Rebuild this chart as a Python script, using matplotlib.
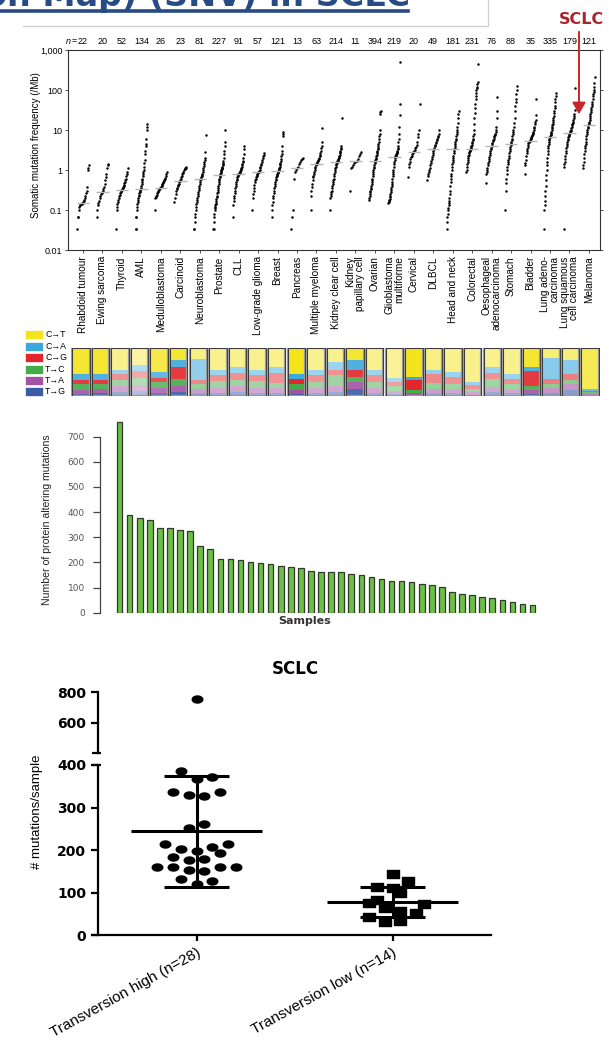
import numpy as np
import matplotlib
matplotlib.use("Agg")
import matplotlib.pyplot as plt
from matplotlib import font_manager
from matplotlib.path import Path
from matplotlib.transforms import Affine2D, blended_transform_factory
from matplotlib.patches import Rectangle, FancyArrowPatch
from matplotlib.lines import Line2D
from matplotlib.ticker import NullLocator

# ---------------------------------------------------------------- data
cancer_types = ["Rhabdoid tumour", "Ewing sarcoma", "Thyroid", "AML", "Medulloblastoma",
                "Carcinoid", "Neuroblastoma", "Prostate", "CLL", "Low-grade glioma",
                "Breast", "Pancreas", "Multiple myeloma", "Kidney clear cell",
                "Kidney\npapillary cell", "Ovarian", "Glioblastoma\nmultiforme", "Cervical",
                "DLBCL", "Head and neck", "Colorectal", "Oesophageal\nadenocarcinoma",
                "Stomach", "Bladder", "Lung adeno-\ncarcinoma", "Lung squamous\ncell carcinoma",
                "Melanoma"]
sample_counts = [22, 20, 52, 134, 26, 23, 81, 227, 91, 57, 121, 13, 63, 214, 11, 394, 219,
                 20, 49, 181, 231, 76, 88, 35, 335, 179, 121]
median_freq = [0.15, 0.29, 0.32, 0.34, 0.36, 0.54, 0.58, 0.75, 0.78, 0.87, 0.94, 1.1, 1.4,
               1.6, 1.65, 1.7, 2.1, 2.9, 3.3, 3.3, 3.3, 4.0, 4.4, 5.3, 6.7, 8.4, 13.6]

# somatic mutation frequency (/Mb) per sample
freq_rhabdoid = [0.033, 0.065, 0.065, 0.1, 0.12, 0.13, 0.13, 0.14, 0.14, 0.15, 0.15, 0.16,
                 0.17, 0.18, 0.2, 0.22, 0.26, 0.3, 0.38, 1.0, 1.15, 1.3]
freq_ewing = [0.065, 0.1, 0.13, 0.15, 0.17, 0.2, 0.22, 0.25, 0.27, 0.29, 0.3, 0.33, 0.38,
              0.45, 0.55, 0.65, 0.8, 1.1, 1.3, 1.4]
freq_thyroid = [0.033, 0.1, 0.12, 0.14, 0.16, 0.18, 0.2, 0.22, 0.24, 0.26, 0.28, 0.3, 0.31,
                0.33, 0.35, 0.38, 0.4, 0.43, 0.47, 0.5, 0.55, 0.6, 0.7, 0.8, 0.9, 1.1]
freq_aml = [0.033, 0.033, 0.065, 0.065, 0.1, 0.12, 0.14, 0.16, 0.18, 0.2, 0.22, 0.24, 0.26,
            0.28, 0.3, 0.32, 0.34, 0.36, 0.4, 0.45, 0.5, 0.55, 0.6, 0.7, 0.8, 0.9, 1.0, 1.2,
            1.5, 1.8, 2.5, 3.0, 4.0, 4.5, 6.0, 10.0, 12.0, 14.0]
freq_medullo = [0.1, 0.2, 0.21, 0.22, 0.24, 0.26, 0.28, 0.3, 0.32, 0.34, 0.35, 0.36, 0.37,
                0.38, 0.4, 0.42, 0.45, 0.48, 0.5, 0.52, 0.55, 0.58, 0.62, 0.7, 0.8, 0.9]
freq_carcinoid = [0.16, 0.2, 0.25, 0.3, 0.33, 0.36, 0.4, 0.43, 0.45, 0.5, 0.52, 0.55, 0.6,
                  0.65, 0.7, 0.8, 0.85, 0.9, 1.0, 1.05, 1.1, 1.15, 1.2]
freq_neuroblastoma = [0.033, 0.033, 0.05, 0.065, 0.08, 0.1, 0.12, 0.14, 0.16, 0.18, 0.2,
                      0.22, 0.25, 0.28, 0.32, 0.36, 0.4, 0.45, 0.5, 0.55, 0.58, 0.6, 0.65,
                      0.7, 0.75, 0.8, 0.9, 1.0, 1.1, 1.25, 1.4, 1.6, 1.8, 2.0, 2.8, 7.5]
freq_prostate = [0.033, 0.033, 0.05, 0.065, 0.08, 0.1, 0.11, 0.12, 0.13, 0.14, 0.15, 0.17,
                 0.19, 0.21, 0.23, 0.26, 0.29, 0.32, 0.36, 0.4, 0.45, 0.5, 0.55, 0.6, 0.65,
                 0.7, 0.75, 0.8, 0.85, 0.9, 0.95, 1.0, 1.05, 1.1, 1.15, 1.2, 1.3, 1.4, 1.5,
                 1.7, 2.0, 2.5, 3.0, 4.0, 5.0, 10.0]
freq_cll = [0.065, 0.13, 0.17, 0.2, 0.23, 0.26, 0.3, 0.35, 0.4, 0.45, 0.5, 0.55, 0.6, 0.65,
            0.7, 0.74, 0.78, 0.8, 0.83, 0.86, 0.9, 0.95, 1.0, 1.05, 1.1, 1.2, 1.3, 1.4, 1.55,
            1.7, 2.0, 2.5, 3.3, 4.0]
freq_lgg = [0.1, 0.2, 0.25, 0.3, 0.35, 0.42, 0.5, 0.55, 0.6, 0.65, 0.7, 0.75, 0.8, 0.85,
            0.87, 0.9, 0.95, 1.0, 1.1, 1.2, 1.3, 1.4, 1.6, 1.8, 2.0, 2.2, 2.4, 2.6]
freq_breast = [0.065, 0.1, 0.13, 0.16, 0.2, 0.23, 0.26, 0.3, 0.35, 0.4, 0.45, 0.5, 0.55,
               0.6, 0.65, 0.7, 0.75, 0.8, 0.85, 0.9, 0.94, 1.0, 1.05, 1.1, 1.2, 1.3, 1.4,
               1.5, 1.7, 1.9, 2.2, 2.5, 3.0, 4.0, 7.0, 8.0, 9.0]
freq_pancreas = [0.033, 0.065, 0.1, 0.6, 0.9, 1.0, 1.1, 1.2, 1.4, 1.6, 1.8, 1.9, 2.0]
freq_myeloma = [0.1, 0.23, 0.3, 0.38, 0.45, 0.55, 0.65, 0.72, 0.8, 0.9, 1.0, 1.1, 1.2, 1.3,
                1.4, 1.45, 1.5, 1.6, 1.7, 1.8, 1.9, 2.0, 2.2, 2.4, 2.7, 3.0, 3.5, 4.0, 5.0,
                11.0]
freq_kidney_clear = [0.1, 0.2, 0.22, 0.25, 0.28, 0.3, 0.35, 0.4, 0.45, 0.5, 0.55, 0.6, 0.7,
                     0.8, 0.9, 1.0, 1.1, 1.2, 1.3, 1.4, 1.5, 1.6, 1.65, 1.7, 1.8, 1.9, 2.0,
                     2.1, 2.2, 2.4, 2.6, 2.8, 3.0, 3.3, 3.6, 4.0, 20.0]
freq_kidney_pap = [0.3, 1.1, 1.2, 1.3, 1.5, 1.6, 1.7, 1.9, 2.2, 2.5, 2.8]
freq_ovarian = [0.18, 0.2, 0.22, 0.25, 0.28, 0.3, 0.33, 0.36, 0.4, 0.45, 0.5, 0.55, 0.6,
                0.7, 0.8, 0.9, 1.0, 1.1, 1.2, 1.35, 1.5, 1.6, 1.7, 1.8, 1.9, 2.0, 2.2, 2.4,
                2.6, 2.8, 3.0, 3.3, 3.6, 4.0, 4.5, 5.0, 6.0, 7.0, 8.0, 10.0, 25.0, 28.0, 30.0]
freq_gbm = [0.15, 0.16, 0.17, 0.18, 0.19, 0.21, 0.23, 0.25, 0.28, 0.32, 0.36, 0.4, 0.45,
            0.5, 0.6, 0.7, 0.8, 0.9, 1.0, 1.2, 1.4, 1.6, 1.8, 2.0, 2.1, 2.2, 2.3, 2.4, 2.5,
            2.6, 2.7, 2.8, 3.0, 3.3, 3.6, 4.0, 5.0, 6.0, 8.0, 12.0, 24.0, 45.0, 490.0]
freq_cervical = [0.68, 1.2, 1.4, 1.6, 1.9, 2.1, 2.3, 2.5, 2.7, 2.8, 3.0, 3.2, 3.5, 3.8, 4.2,
                 5.0, 6.5, 8.0, 10.0, 45.0]
freq_dlbcl = [0.56, 0.7, 0.8, 0.9, 1.0, 1.1, 1.3, 1.5, 1.7, 1.9, 2.1, 2.4, 2.7, 3.0, 3.3,
              3.6, 3.9, 4.2, 4.6, 5.0, 5.5, 6.0, 6.5, 7.0, 8.0, 10.0]
freq_head_neck = [0.033, 0.05, 0.065, 0.08, 0.1, 0.11, 0.13, 0.15, 0.17, 0.2, 0.25, 0.3,
                  0.4, 0.5, 0.6, 0.7, 0.8, 1.0, 1.2, 1.4, 1.6, 1.8, 2.0, 2.3, 2.6, 3.0, 3.3,
                  3.6, 4.0, 4.5, 5.0, 5.5, 6.0, 7.0, 8.0, 9.0, 10.0, 12.0, 15.0, 20.0, 25.0,
                  30.0]
freq_colorectal = [0.9, 1.0, 1.2, 1.4, 1.6, 1.8, 2.0, 2.2, 2.4, 2.6, 2.8, 3.0, 3.2, 3.3,
                   3.4, 3.6, 3.8, 4.0, 4.3, 4.6, 5.0, 5.5, 6.0, 7.0, 8.0, 10.0, 14.0, 20.0,
                   26.0, 35.0, 45.0, 60.0, 70.0, 85.0, 100.0, 110.0, 120.0, 140.0, 160.0,
                   440.0]
freq_oesophageal = [0.46, 0.8, 0.9, 1.0, 1.1, 1.3, 1.5, 1.7, 1.9, 2.1, 2.4, 2.7, 3.0, 3.3,
                    3.6, 4.0, 4.4, 4.8, 5.2, 5.6, 6.0, 6.5, 7.0, 7.5, 8.0, 9.0, 10.0, 12.0,
                    20.0, 30.0, 65.0]
freq_stomach = [0.1, 0.3, 0.46, 0.6, 0.8, 1.0, 1.2, 1.4, 1.6, 1.8, 2.0, 2.3, 2.6, 3.0, 3.4,
                3.8, 4.2, 4.6, 5.0, 5.5, 6.0, 7.0, 8.0, 9.0, 10.0, 12.0, 15.0, 20.0, 30.0,
                40.0, 50.0, 60.0, 80.0, 100.0, 125.0]
freq_bladder = [0.8, 1.3, 1.5, 1.8, 2.2, 2.6, 3.0, 3.4, 3.8, 4.2, 4.6, 5.0, 5.1, 5.2, 5.3,
                5.5, 5.8, 6.2, 6.6, 7.0, 7.5, 8.0, 8.5, 9.0, 10.0, 11.0, 12.0, 14.0, 16.0,
                18.0, 24.0, 60.0]
freq_lung_adeno = [0.033, 0.1, 0.13, 0.17, 0.22, 0.3, 0.4, 0.55, 0.75, 1.0, 1.3, 1.6, 2.0,
                   2.5, 3.0, 3.5, 4.0, 4.5, 5.0, 5.5, 6.0, 6.5, 6.8, 7.2, 7.6, 8.0, 8.5, 9.0,
                   10.0, 11.0, 12.0, 13.0, 14.0, 16.0, 18.0, 20.0, 23.0, 26.0, 30.0, 35.0,
                   40.0, 50.0, 60.0, 70.0, 82.0]
freq_lung_squamous = [0.033, 1.2, 1.4, 1.6, 1.9, 2.2, 2.6, 3.0, 3.5, 4.0, 4.5, 5.0, 5.5,
                      6.0, 6.5, 7.0, 7.5, 8.0, 8.4, 8.8, 9.2, 9.6, 10.0, 11.0, 12.0, 13.0,
                      14.0, 15.0, 16.0, 18.0, 20.0, 22.0, 25.0, 32.0, 45.0, 115.0]
freq_melanoma = [1.1, 1.3, 1.6, 2.0, 2.5, 3.0, 3.5, 4.0, 4.5, 5.0, 6.0, 7.0, 8.0, 9.0, 10.0,
                 11.0, 12.0, 13.0, 14.0, 15.0, 16.0, 18.0, 20.0, 22.0, 25.0, 28.0, 32.0,
                 36.0, 40.0, 45.0, 50.0, 60.0, 70.0, 80.0, 90.0, 100.0, 120.0, 150.0, 210.0]

freq_columns = [freq_rhabdoid, freq_ewing, freq_thyroid, freq_aml, freq_medullo,
                freq_carcinoid, freq_neuroblastoma, freq_prostate, freq_cll, freq_lgg,
                freq_breast, freq_pancreas, freq_myeloma, freq_kidney_clear, freq_kidney_pap,
                freq_ovarian, freq_gbm, freq_cervical, freq_dlbcl, freq_head_neck,
                freq_colorectal, freq_oesophageal, freq_stomach, freq_bladder,
                freq_lung_adeno, freq_lung_squamous, freq_melanoma]

# mean fraction of each substitution class per cancer type
substitution_classes = ["C\u2192T", "C\u2192A", "C\u2192G", "T\u2192C", "T\u2192A", "T\u2192G"]
frac_CT = [.55, .55, .45, .35, .50, .25, .22, .45, .40, .45, .40, .55, .45, .30, .25, .45,
           .62, .60, .45, .50, .70, .40, .55, .40, .20, .25, .85]
frac_CA = [.12, .12, .10, .12, .12, .15, .45, .12, .12, .12, .12, .10, .12, .15, .20, .12,
           .08, .06, .10, .10, .08, .12, .10, .08, .45, .30, .04]
frac_CG = [.08, .08, .12, .15, .08, .25, .08, .12, .14, .12, .20, .10, .14, .12, .15, .14,
           .10, .22, .18, .16, .07, .12, .10, .32, .10, .12, .03]
frac_TC = [.12, .10, .13, .15, .14, .15, .10, .14, .14, .14, .12, .12, .12, .22, .10, .12,
           .10, .05, .12, .10, .07, .18, .12, .08, .08, .08, .04]
frac_TA = [.08, .08, .12, .13, .10, .12, .08, .10, .12, .10, .10, .08, .10, .13, .15, .10,
           .06, .04, .08, .08, .05, .10, .07, .07, .10, .12, .02]
frac_TG = [.05, .07, .08, .10, .06, .08, .07, .07, .08, .07, .06, .05, .07, .08, .15, .07,
           .04, .03, .07, .06, .03, .08, .06, .05, .07, .13, .02]

# protein altering mutations per SCLC sample
protein_altering = [757, 387, 375, 369, 337, 335, 329, 326, 265, 252, 213, 212, 208, 203,
                    197, 194, 186, 180, 176, 164, 160, 160, 160, 152, 150, 142, 134, 127,
                    127, 122, 114, 111, 101, 82, 74, 72, 62, 57, 50, 42, 34, 30]

# mutations per sample, split by transversion group
group_labels = ["Transversion high (n=28)", "Transversion low (n=14)"]
transversion_high = [758, 387, 372, 368, 336, 329, 327, 336, 262, 253, 214, 214, 203, 208,
                     199, 194, 185, 176, 179, 161, 161, 161, 161, 153, 151, 133, 128, 120]
transversion_low = [143, 128, 114, 110, 99, 83, 75, 73, 63, 56, 52, 44, 32, 34]

# ---------------------------------------------------------------- styling
W, H = 609, 1045


def _installed(name):
    try:
        font_manager.findfont(font_manager.FontProperties(family=name),
                              fallback_to_default=False)
        return True
    except ValueError:
        return False


SANS = "Liberation Sans"
NARROW = "Liberation Sans Narrow" if _installed("Liberation Sans Narrow") else SANS
plt.rcParams["font.family"] = [SANS, "DejaVu Sans"]

sub_colors = ["#f4e41c", "#3ba9dd", "#e3262b", "#43ab47", "#a351a3", "#3b5ba5"]
sig_saturation = [0.9, 0.9, 0.5, 0.4, 0.8, 0.9, 0.55, 0.5, 0.5, 0.5, 0.5, 1.0, 0.5, 0.5,
                  0.9, 0.5, 0.45, 1.0, 0.55, 0.5, 0.5, 0.5, 0.5, 0.9, 0.6, 0.6, 0.75]

# jitter slots of the dot plot (column offsets)
high_slots = [0, -2, 2, 0, -3, -1, 1, 3, 1, -1, -4, 4, -2, 2, 0, 3, -3, -1, 1, -5, -3, 3, 5,
              -1, 1, -2, 2, 0]
low_slots = [0, 2, -2, 0, 1, -2, -3, 4, -1, 1, 3, -3, -1, 1]
SLOT = 0.04

fig = plt.figure(figsize=(W / 100, H / 100), dpi=100)
fig.patch.set_facecolor("white")


def add_ax(x0, y0, x1, y1):
    return fig.add_axes([x0 / W, 1 - y1 / H, (x1 - x0) / W, (y1 - y0) / H])


def fx(x):
    return x / W


def fy(y):
    return 1 - y / H


# ---------------------------------------------------------------- heading strip
fig.text(fx(410), fy(6.0), "(Mutation Map) (SNV) in SCLC", ha="right", va="baseline",
         fontsize=24, fontweight="bold", color="#284b86", family="DejaVu Sans")
fig.add_artist(Line2D([0, fx(408)], [fy(10.5), fy(10.5)], color="#284b86", lw=2.6,
                      transform=fig.transFigure))
fig.add_artist(Line2D([fx(23), fx(488), fx(488)], [fy(26), fy(26), fy(0)], color="#cfcfcf",
                      lw=0.9, transform=fig.transFigure))

# ---------------------------------------------------------------- mutation frequency panel
ax = add_ax(68, 50, 600, 250)
ax.set_yscale("log")
ax.set_ylim(0.01, 1000)
ax.set_xlim(-0.77, 26.57)
for i, vals in enumerate(freq_columns):
    v = np.sort(np.asarray(vals, dtype=float))
    xs = i + np.linspace(-0.3, 0.3, len(v))
    ax.scatter(xs, v, s=3.2, c="black", linewidths=0, zorder=2)
    ax.hlines(median_freq[i], i - 0.32, i + 0.32, color="#b5b5b5", lw=1.0, zorder=3)

ax.set_yticks([0.01, 0.1, 1, 10, 100, 1000])
ax.set_yticklabels(["0.01", "0.1", "1", "10", "100", "1,000"], family=[NARROW, "DejaVu Sans"],
                   fontsize=6.5)
ax.yaxis.set_minor_locator(NullLocator())
ax.tick_params(axis="y", which="major", left=True, right=True, direction="out", length=2.5,
               width=0.6, pad=1.5, color="#333")
ax.set_xticks(range(len(cancer_types)))
ax.set_xticklabels(cancer_types, rotation=90, fontsize=7.2, linespacing=0.95)
for lab in ax.get_xticklabels():
    lab.set_multialignment("right")
ax.tick_params(axis="x", direction="out", length=2, width=0.6, pad=2.5, color="#333")
for s in ax.spines.values():
    s.set_linewidth(0.8)
    s.set_color("#333")

top_tr = blended_transform_factory(ax.transData, ax.transAxes)
for i, n in enumerate(sample_counts):
    ax.text(i, 1.022, str(n), transform=top_tr, ha="center", va="bottom", fontsize=6.5,
            family=NARROW)
ax.text(-0.46, 1.022, "=", transform=top_tr, ha="center", va="bottom", fontsize=6.5,
        family=NARROW)
ax.text(-0.6, 1.022, "n", transform=top_tr, ha="right", va="bottom", fontsize=6.5,
        family=NARROW, style="italic")
fig.text(fx(36), fy(145), "Somatic mutation frequency (/Mb)", rotation=90, ha="center",
         va="center", fontsize=7)

# SCLC pointer
fig.text(fx(581), fy(20), "SCLC", ha="center", va="center", fontsize=11.5,
         fontweight="bold", color="#a8242c", family="DejaVu Sans")
fig.add_artist(FancyArrowPatch((fx(579), fy(29)), (fx(579), fy(117)),
                               transform=fig.transFigure,
                               arrowstyle="-|>,head_length=0.7,head_width=0.4",
                               mutation_scale=10, color="#c8262c", lw=1.4, zorder=20))

# ---------------------------------------------------------------- substitution spectra
axs = add_ax(71, 348, 600, 396)
axs.set_xlim(0, len(cancer_types))
axs.set_ylim(0, 1)
axs.axis("off")
frac_table = [frac_CT, frac_CA, frac_CG, frac_TC, frac_TA, frac_TG]
for i in range(len(cancer_types)):
    x0, w = i + 0.055, 0.89
    bottom = 0.0
    for k in range(5, -1, -1):
        f = frac_table[k][i]
        axs.add_patch(Rectangle((x0, bottom), w, f, facecolor=sub_colors[k],
                                alpha=sig_saturation[i], linewidth=0))
        bottom += f
    axs.add_patch(Rectangle((x0, 0), w, 1, facecolor="none", edgecolor="#9a9a9a", lw=1.6))
    axs.add_patch(Rectangle((x0, 0), w, 1, facecolor="none", edgecolor="#3a3a3a", lw=0.7))

# legend
axl = add_ax(20, 326, 70, 398)
axl.set_xlim(20, 70)
axl.set_ylim(398, 326)
axl.axis("off")
legend_tops = [330, 341.5, 353, 364.5, 376, 387]
for k, name in enumerate(substitution_classes):
    axl.add_patch(Rectangle((25, legend_tops[k]), 18, 9, facecolor=sub_colors[k],
                            edgecolor="white", lw=0.5))
    axl.text(45, legend_tops[k] + 4.7, name, ha="left", va="center", fontsize=6.3,
             family=[NARROW, "DejaVu Sans"])

# ---------------------------------------------------------------- protein altering bars
axb = add_ax(100, 420, 560, 612.7)
xb = np.arange(len(protein_altering))
axb.bar(xb, protein_altering, width=0.55, color="#6cbf47", edgecolor="#2f3a28", lw=0.9)
axb.set_xlim(-1.95, 43.73)
axb.set_ylim(0, 766.5)
for side in ("top", "right", "bottom"):
    axb.spines[side].set_visible(False)
axb.spines["left"].set_bounds(0, 700)
axb.spines["left"].set_color("#444")
axb.spines["left"].set_linewidth(0.9)
axb.set_yticks(range(0, 701, 100))
axb.set_yticklabels([str(v) for v in range(0, 701, 100)], fontsize=6.5, color="#555",
                    family="DejaVu Sans")
axb.tick_params(axis="y", direction="out", length=5, width=0.9, pad=6, color="#444")
axb.set_xticks([])
fig.text(fx(47), fy(520), "Number of protein altering mutations", rotation=90,
         ha="center", va="center", fontsize=7.6, family=NARROW, color="#222")
fig.text(fx(305), fy(621), "Samples", ha="center", va="center", fontsize=8,
         fontweight="bold", color="#333", family="DejaVu Sans")

# ---------------------------------------------------------------- SCLC dot plot (broken axis)
ellipse = Path.unit_circle().transformed(Affine2D().scale(1.5, 1.0))
oblong = Path.unit_rectangle().transformed(Affine2D().translate(-0.5, -0.5).scale(1.5, 1.0))

lo = add_ax(92, 765, 491, 935.3)
hi = add_ax(92, 692.3, 491, 753.3)
lo.set_ylim(0, 400)
hi.set_ylim(400, 800)
spine_pos = ("axes", 5.6 / 399)
high_x = 1 + np.array(high_slots) * SLOT
high_y = np.array(transversion_high)
low_x = 2 + np.array(low_slots) * SLOT
low_y = np.array(transversion_low)
for a, keep in ((lo, lambda y: y <= 400), (hi, lambda y: y > 400)):
    a.set_xlim(0.467, 2.502)
    a.patch.set_alpha(0)
    a.spines["top"].set_visible(False)
    a.spines["right"].set_visible(False)
    a.spines["left"].set_position(spine_pos)
    for s in a.spines.values():
        s.set_linewidth(1.6)
    mh = keep(high_y)
    ml = keep(low_y)
    a.plot(high_x[mh], high_y[mh], ls="none", marker=ellipse, ms=7.6, color="black",
           zorder=3)
    a.plot(low_x[ml], low_y[ml], ls="none", marker=oblong, ms=8.0, color="black",
           zorder=3)
    a.tick_params(axis="y", direction="out", length=4.8, width=1.6, pad=3.5,
                  labelsize=10)
hi.spines["bottom"].set_visible(False)
hi.set_xticks([])
hi.set_yticks([600, 800])
hi.set_yticklabels(["600", "800"], fontweight="bold", family="DejaVu Sans", fontsize=10)
lo.set_yticks([0, 100, 200, 300, 400])
lo.set_yticklabels(["0", "100", "200", "300", "400"], fontweight="bold",
                   family="DejaVu Sans", fontsize=10)
lo.set_xticks([1, 2])
lo.set_xticklabels(group_labels, rotation=29, ha="right", va="top",
                   rotation_mode="anchor", fontsize=11)
lo.tick_params(axis="x", direction="out", length=4.6, width=1.6, pad=3)

# break marks at both ends of the gap
for yb in (753.3, 765):
    fig.add_artist(Line2D([fx(91.5), fx(100.5)], [fy(yb), fy(yb)], color="black", lw=1.6,
                          transform=fig.transFigure, solid_capstyle="butt"))

for pos, vals in ((1, transversion_high), (2, transversion_low)):
    m = np.mean(vals)
    sd = np.std(vals, ddof=1)
    lo.hlines(m, pos - 0.333, pos + 0.333, color="black", lw=2.2, zorder=4)
    lo.vlines(pos, m - sd, m + sd, color="black", lw=2.2, zorder=4)
    lo.hlines([m - sd, m + sd], pos - 0.165, pos + 0.165, color="black", lw=2.2, zorder=4)

fig.text(fx(295), fy(669), "SCLC", ha="center", va="center", fontsize=12,
         fontweight="bold", family="DejaVu Sans")
fig.text(fx(37), fy(812), "# mutations/sample", rotation=90, ha="center", va="center",
         fontsize=9.5)

fig.savefig("out.png", dpi=100, facecolor="white")
